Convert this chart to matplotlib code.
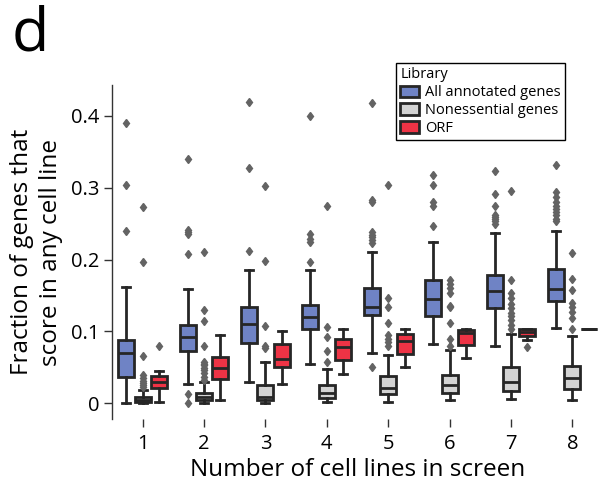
import matplotlib
matplotlib.use("Agg")
import matplotlib.pyplot as plt
from matplotlib.patches import Patch
import numpy as np

plt.rcParams['font.family'] = ['Open Sans', 'DejaVu Sans']

groups = [1, 2, 3, 4, 5, 6, 7, 8]
series_names = ["All annotated genes", "Nonessential genes", "ORF"]
series_colors = ["#6f83c5", "#d3d3d3", "#ee3345"]

# All annotated genes
all_whislo = [0.0, 0.027, 0.030, 0.055, 0.070, 0.082, 0.080, 0.105]
all_q1 = [0.037, 0.072, 0.084, 0.104, 0.123, 0.121, 0.133, 0.142]
all_med = [0.070, 0.092, 0.110, 0.120, 0.134, 0.145, 0.156, 0.159]
all_q3 = [0.088, 0.109, 0.134, 0.137, 0.160, 0.172, 0.179, 0.187]
all_whishi = [0.162, 0.159, 0.185, 0.185, 0.211, 0.224, 0.237, 0.240]
all_fliers = [
    [0.240, 0.304, 0.390],
    [0.0, 0.0125, 0.208, 0.236, 0.238, 0.241, 0.340],
    [0.212, 0.327, 0.420],
    [0.196, 0.225, 0.229, 0.235, 0.400],
    [0.050, 0.223, 0.227, 0.231, 0.234, 0.239, 0.280, 0.283, 0.418],
    [0.247, 0.275, 0.280, 0.304, 0.318],
    [0.250, 0.253, 0.256, 0.259, 0.262, 0.274, 0.291, 0.323],
    [0.253, 0.257, 0.262, 0.266, 0.270, 0.274, 0.280, 0.287, 0.294, 0.331],
]

# Nonessential genes
non_whislo = [0.0, 0.0, 0.0, 0.001, 0.001, 0.004, 0.006, 0.004]
non_q1 = [0.001, 0.004, 0.005, 0.007, 0.013, 0.014, 0.017, 0.020]
non_med = [0.004, 0.008, 0.009, 0.014, 0.021, 0.025, 0.029, 0.035]
non_q3 = [0.009, 0.014, 0.025, 0.026, 0.038, 0.039, 0.050, 0.052]
non_whishi = [0.019, 0.030, 0.057, 0.048, 0.067, 0.074, 0.097, 0.093]
non_fliers = [
    [0.022, 0.025, 0.028, 0.031, 0.035, 0.039, 0.066, 0.197, 0.273],
    [0.032, 0.036, 0.042, 0.046, 0.049, 0.053, 0.055, 0.058, 0.079, 0.115, 0.130, 0.210],
    [0.077, 0.079, 0.108, 0.198, 0.303],
    [0.057, 0.073, 0.092, 0.106, 0.275],
    [0.080, 0.085, 0.090, 0.095, 0.112, 0.134, 0.147, 0.304],
    [0.080, 0.090, 0.112, 0.134, 0.136, 0.153, 0.160, 0.166, 0.172],
    [0.103, 0.109, 0.116, 0.121, 0.125, 0.132, 0.138, 0.147, 0.153, 0.172, 0.296],
    [0.104, 0.118, 0.127, 0.134, 0.140, 0.158, 0.173, 0.209],
]

# ORF
orf_whislo = [0.001, 0.005, 0.027, 0.041, 0.050, 0.063, 0.088, 0.103]
orf_q1 = [0.021, 0.034, 0.050, 0.060, 0.069, 0.081, 0.094, 0.103]
orf_med = [0.029, 0.049, 0.061, 0.078, 0.086, 0.098, 0.0997, 0.103]
orf_q3 = [0.038, 0.065, 0.083, 0.089, 0.097, 0.102, 0.103, 0.103]
orf_whishi = [0.045, 0.095, 0.101, 0.103, 0.103, 0.103, 0.103, 0.103]
orf_fliers = [[0.080], [], [], [], [], [], [0.078], []]

series = [
    (all_whislo, all_q1, all_med, all_q3, all_whishi, all_fliers),
    (non_whislo, non_q1, non_med, non_q3, non_whishi, non_fliers),
    (orf_whislo, orf_q1, orf_med, orf_q3, orf_whishi, orf_fliers),
]

edge = "#262626"
lw = 2.0

fig = plt.figure(figsize=(6.05, 4.98), dpi=100)
ax = fig.add_axes([0.185, 0.1586, 0.8117, 0.6707])

n_hue = 3
hue_w = 0.8 / n_hue
offsets = [(-1 + i) * hue_w for i in range(n_hue)]
base = np.arange(len(groups))

for s_idx, (wl, q1, med, q3, wh, fl) in enumerate(series):
    stats = []
    for g in range(len(groups)):
        stats.append(dict(whislo=wl[g], q1=q1[g], med=med[g], q3=q3[g],
                          whishi=wh[g], fliers=fl[g]))
    pos = base + offsets[s_idx]
    ax.bxp(stats, positions=pos, widths=hue_w * 0.98, patch_artist=True,
           showfliers=True, manage_ticks=False,
           boxprops=dict(facecolor=series_colors[s_idx], edgecolor=edge, linewidth=lw),
           medianprops=dict(color=edge, linewidth=lw),
           whiskerprops=dict(color=edge, linewidth=lw),
           capprops=dict(color=edge, linewidth=lw),
           flierprops=dict(marker='d', markersize=4.3, markerfacecolor='#636363',
                           markeredgecolor='#636363', linestyle='none'))

ax.set_xlim(-0.5, 7.5)
ax.set_ylim(-0.022, 0.443)
ax.set_xticks(base)
ax.set_xticklabels([str(g) for g in groups])
ax.set_yticks([0, 0.1, 0.2, 0.3, 0.4])
ax.set_yticklabels(["0", "0.1", "0.2", "0.3", "0.4"])

for sp in ["top", "right", "bottom"]:
    ax.spines[sp].set_visible(False)
ax.spines["left"].set_color("#333333")
ax.spines["left"].set_linewidth(1.0)
ax.tick_params(axis='both', labelsize=14.5, colors="#333333", labelcolor="black",
               length=6, width=1.0, direction='out')
ax.tick_params(axis='x', pad=5)
ax.tick_params(axis='y', pad=3)

ax.set_xlabel("Number of cell lines in screen", fontsize=17.5, labelpad=3)
ax.set_ylabel("Fraction of genes that\nscore in any cell line", fontsize=17.5,
              labelpad=6, linespacing=1.25)

fig.text(0.02, 0.99, "d", fontsize=44, va='top', ha='left')

handles = [Patch(facecolor=c, edgecolor=edge, linewidth=lw) for c in series_colors]
leg = fig.legend(handles, series_names, title="Library", loc='upper left',
                 bbox_to_anchor=(0.6545, 0.8735), fontsize=10.5, title_fontsize=10.5,
                 frameon=True, fancybox=False, edgecolor='black', framealpha=1,
                 handlelength=1.3, handleheight=0.82, handletextpad=0.4,
                 labelspacing=0.2, borderpad=0.3, borderaxespad=0)
leg._legend_box.align = "left"
leg.get_frame().set_linewidth(1.0)

fig.savefig("out.png", dpi=100)
